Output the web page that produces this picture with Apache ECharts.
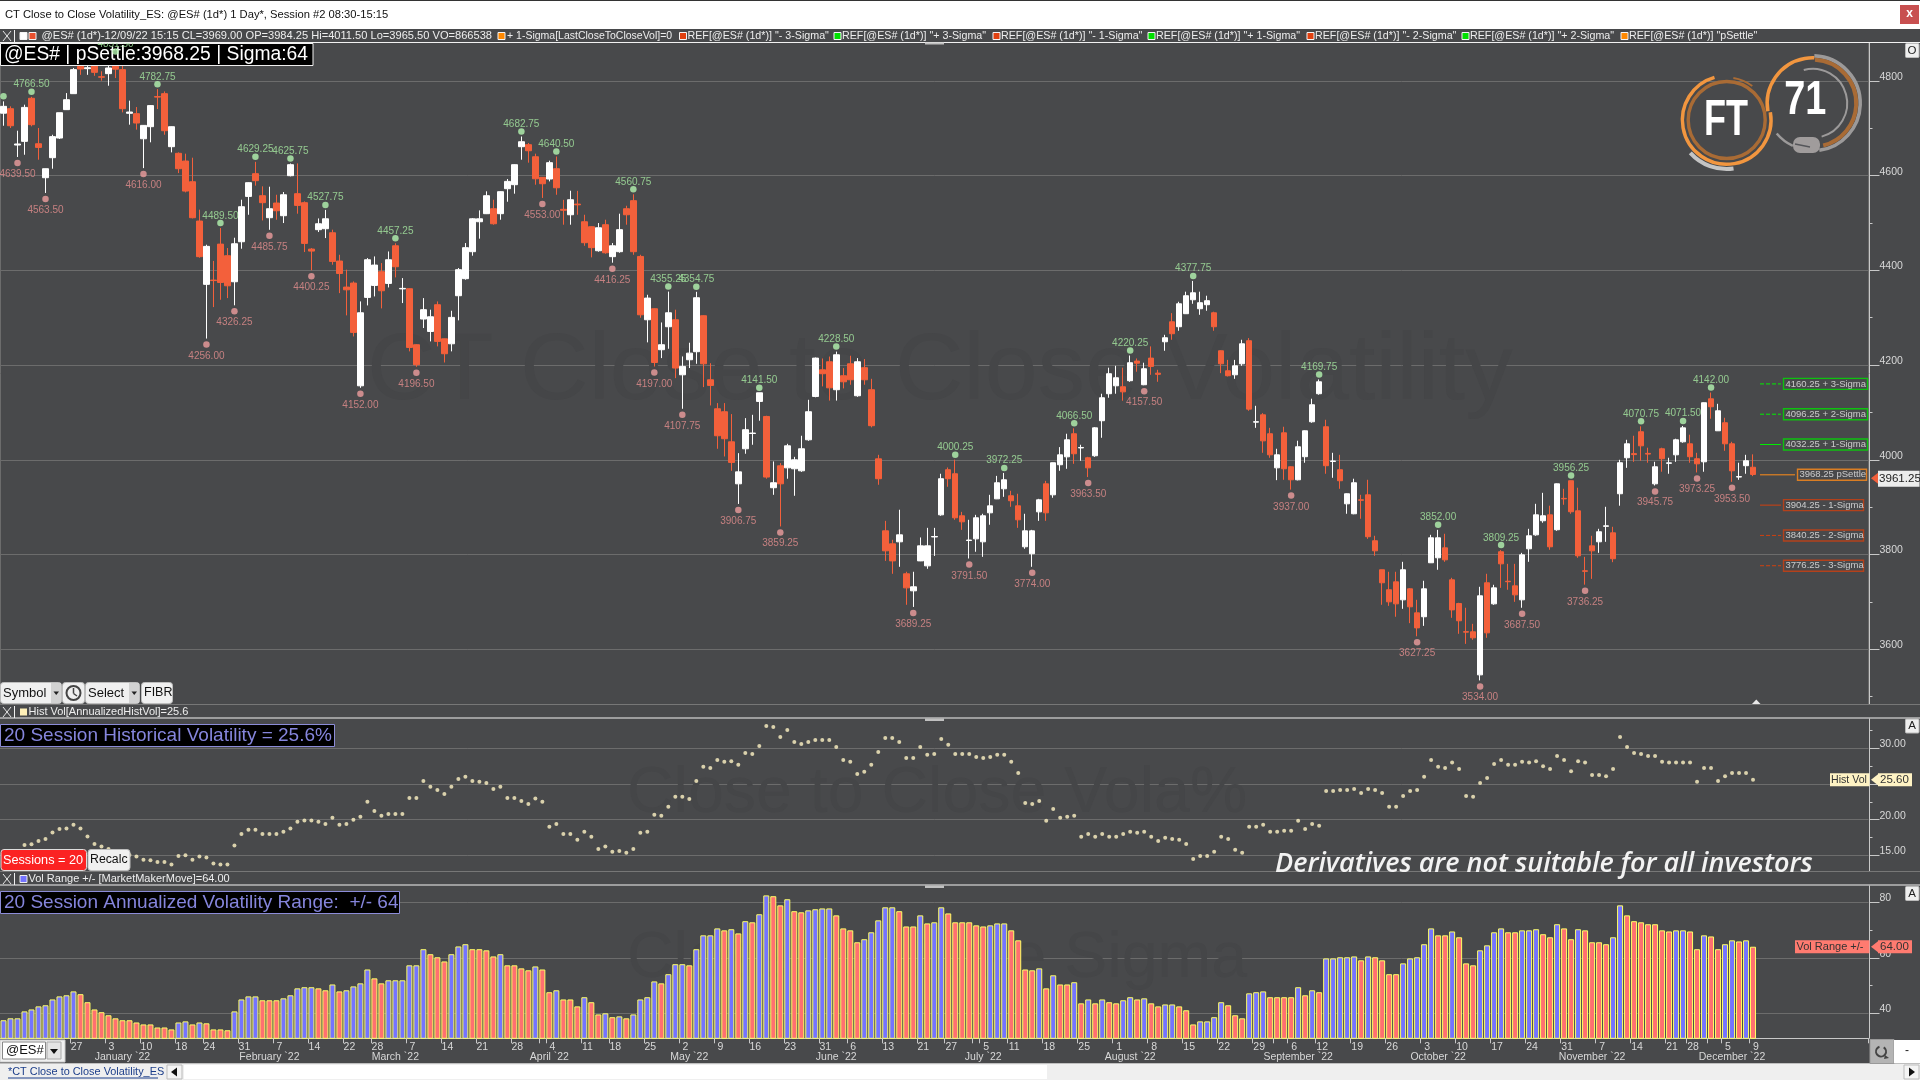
<!DOCTYPE html>
<html><head><meta charset="utf-8"><title>CT Close to Close Volatility</title>
<style>html,body{margin:0;padding:0;background:#48494b}#c{width:1920px;height:1080px}</style>
<script src="https://cdn.jsdelivr.net/npm/echarts@6/dist/echarts.min.js"></script></head>
<body><div id="c"></div>
<script>
const opens=[4732,4741.5,4664.75,4672.5,4763.5,4667.5,4595.75,4638,4679.5,4739.5,
4773.25,4831,4826,4838,4809,4815.5,4838,4824,4731.75,4731,
4678,4703.5,4767,4773.25,4661.25,4647.25,4631,4587.25,4504.25,4370.5,
4379.5,4455.5,4431,4376,4460.5,4556.25,4604.25,4557.75,4511.25,4542.25,
4515.5,4600,4562,4543,4445,4486,4488,4479.5,4419.75,4364.75,
4373.25,4156.25,4343,4368.25,4397.25,4372.5,4452,4361,4361.25,4243,
4297.25,4271,4327.5,4255.5,4245,4346.5,4382.5,4439.5,4502.75,4519.75,
4530.25,4519.75,4572.5,4581,4661.25,4665.5,4640,4596.5,4593,4614.75,
4529,4517.5,4540,4502.75,4492.25,4441.5,4496.5,4429,4439.5,4530.25,
4547.25,4429.5,4295.75,4319,4232.5,4281,4295.75,4179.5,4211.25,4228.25,
4304.25,4169,4107.75,4101.5,4038,3949.25,4023.25,4055.5,4123.25,4091.5,
3941,3987.25,3983,3981,3976.75,4042.25,4133.75,4190,4207,4148,
4177.5,4202.75,4135.25,4194.5,4148,4002,3850,3822.5,3826.75,3759.25,
3723.25,3786.5,3776,3837,3883.75,3979,3970.5,3881.75,3829.5,3833,
3826.75,3888,3917.5,3938.75,3924,3902.75,3816.25,3801.5,3890,3949.25,
3926,3989.5,4006.25,4055,4025,4004.25,4008.5,4082.5,4139.5,4156.25,
4154.25,4167,4208.5,4158.5,4214.75,4183,4249.25,4291.5,4281,4308.5,
4338,4319,4327.5,4310.5,4230.25,4188,4179.5,4202.75,4251.5,4079.5,
4095,4055,3983,4057,3985.25,3957.75,4006.5,4080.25,4139.5,4069.75,
3996.5,3979,3907,3886,3915.5,3926,3829,3767.75,3725.5,3742.25,
3704.25,3727.5,3676.75,3668.5,3782.5,3793,3814,3746.5,3696.5,3637,
3636.75,3545.75,3740.25,3695.75,3805.75,3743.5,3733.75,3704.25,3812,3841.5,
3871.25,3883.75,3852.25,3918.5,3955.75,3892.25,3765.5,3818.25,3826.75,3859.5,
3845.75,3928.25,4004.25,4013,4059.25,4013.5,3949.25,4023.25,3992.5,4010.5,
4038,4033.75,4002.25,3995.75,4128.75,4061.25,4078.25,4033.75,3963.5,3987.5,
3984.25];
const closes=[4746.5,4705.5,4667,4744.25,4707.75,4659.75,4614.75,4682.5,4733,4760.5,
4824,4825.25,4828,4818.25,4808,4827.5,4825,4741.5,4734.5,4711.25,
4706.25,4748,4766,4695,4703.5,4614.75,4567.5,4511.25,4429,4450.75,
4378.5,4374.5,4367.5,4456.25,4534.5,4585.25,4589.5,4543,4530.25,4526,
4559.75,4623.25,4537.25,4457,4440.75,4498.5,4509,4419,4393.5,4359,
4269,4310.5,4422.5,4411.25,4357,4422.5,4407.75,4362,4237.25,4200.75,
4317,4302,4250,4224,4300.75,4401.5,4448,4509,4509,4557.75,
4498.5,4566.25,4588,4623.25,4671.75,4652.75,4593.5,4583,4627.5,4574.5,
4527,4549.25,4538.5,4458.5,4448,4490,4437.25,4452,4486,4517.5,
4439.5,4306.25,4341.5,4205.5,4243,4310.5,4193.75,4197.25,4225.25,4342.25,
4202.75,4157,4050.75,4044.5,3994.5,3974.5,4063.5,4056.5,4141.5,3963.5,
3951.5,3949.25,4029.5,4000,4023.25,4101.5,4214.75,4181.75,4152,4221.75,
4164.75,4169,4207,4169,4072,3960,3807.75,3786.5,3841.5,3729.5,
3731.75,3818.25,3818.25,3838,3960,3960,3877.5,3869,3830.5,3877.5,
3881.75,3902.75,3951.5,3957.75,3913.5,3873.25,3850,3850,3915.5,3888,
3993.75,4010.5,4042.25,4012.75,4026,3983,4067.5,4131,4181.75,4173.25,
4143.5,4205,4204,4192.25,4197.25,4180.5,4257.75,4266.25,4329.5,4346.5,
4352.75,4331.75,4336,4281,4202.75,4177.5,4198.5,4245,4107,4080.5,
4040,4010.5,4010.5,3981,3957.75,4027.5,4061.25,4116.25,4164.75,3987.5,
3997.5,3955.75,3928.25,3951.5,3914.5,3837.5,3807.75,3740.25,3700,3695.75,
3767.75,3689.5,3645,3727.5,3835.25,3835.25,3788.75,3683,3660,3636,
3624,3712.75,3634.5,3729.5,3780.25,3742.5,3714.75,3799.25,3839.5,3883.75,
3881.75,3816.25,3949.25,3917.5,3890.25,3797.25,3764.5,3807.75,3848,3860.5,
3791,3993.75,4033.75,4011,4029.5,4012,3985.25,4002.25,3993.5,4042.25,
4067.5,4006.5,3991.5,4120.5,4112,4103.5,4033.75,3976.75,3964.5,3998,
3969];
const highs=[4757,4746.5,4695,4750,4766.5,4700.75,4615,4686.5,4733,4774.5,
4827.5,4835,4833,4845,4820.5,4834.5,4851.5,4834,4758.5,4745,
4707,4749.25,4782.75,4778,4704,4649.25,4646.5,4638,4528.25,4454.25,
4420,4489.5,4447.25,4469,4549.25,4586,4629.25,4577.5,4576.75,4559.75,
4565.5,4625.75,4626,4545.75,4447,4509.75,4527.75,4486,4433,4401.5,
4376.75,4334.5,4426,4429.5,4415.5,4440,4457.25,4383.75,4362,4244,
4341.5,4317,4334.5,4256,4314.75,4405,4457.75,4510.5,4526.75,4567,
4549.25,4567,4593,4624,4682.75,4669,4646.5,4597,4631.75,4640.5,
4549,4568.25,4568,4517.5,4493,4500,4507,4457.75,4519.75,4536.5,
4560.75,4433,4348.5,4320,4290,4355.25,4317,4218.25,4247.25,4354.75,
4305,4204,4119.75,4119.75,4096.5,4014,4088,4095,4141.5,4093,
3996.5,3993,4033.75,4006.25,4050.75,4126.75,4216,4214,4218,4228.5,
4193.75,4219.75,4214.75,4212.75,4171,4010.5,3871,3831,3894.5,3763.5,
3763.5,3836,3856.25,3856.25,3970.5,3983.75,4000.25,3890,3873.25,3883.75,
3886,3926,3966,3972.25,3934.5,3928.25,3886,3852,3917.5,3955.5,
3994,4026.75,4055,4066.5,4031.75,4006.25,4069,4139.5,4194.5,4198.5,
4194.5,4220.25,4214,4205,4239.5,4190,4264,4309.75,4333.75,4355,
4377.75,4355,4346.5,4312.75,4231,4211,4211,4253.5,4257,4114,
4098.5,4067.5,4023.25,4069.75,3986,4040.25,4062,4129,4169.75,4084.5,
4014.75,4010.5,3929,3960,3926,3957.75,3839.5,3768,3763.5,3763.5,
3784.5,3729,3704.25,3744.5,3841.5,3852,3843.75,3750.75,3698,3687.5,
3653.5,3731.75,3759.25,3736,3809.25,3780.25,3780.25,3803.5,3854.25,3907,
3930.25,3903,3950,3938.75,3956.25,3941,3795,3839.5,3854.25,3900.75,
3858.5,4000,4042.25,4050.75,4070.75,4025.5,3995.75,4025.5,4004.25,4044.5,
4071.5,4053,4014.75,4121,4142,4118.25,4088.75,4038,3993.75,4010.5,
4011.5];
const lows=[4705.5,4700.75,4639.5,4644.25,4704.25,4633.75,4563.5,4614.75,4677.5,4739,
4773,4813,4813,4811,4800.75,4790,4806.25,4733.75,4707.75,4697.25,
4616,4670.5,4740.75,4686.5,4649.25,4605.5,4564.75,4509.75,4426.75,4256,
4322.5,4338,4341.5,4326.25,4445.75,4517.5,4579,4505.5,4485.75,4507,
4500,4598.5,4519.75,4438.75,4400.25,4481,4468.25,4412,4352,4305,
4260.5,4152,4326,4345,4319.75,4364,4385.25,4331,4229,4196.5,
4278.25,4250,4239.5,4205.5,4229,4294.5,4380.25,4431,4467,4519,
4496.5,4507,4545,4562,4633.75,4627.5,4581,4553,4588,4559.75,
4496.5,4496.5,4517.5,4452,4427.5,4439.5,4435.25,4416.25,4437.25,4496.5,
4433,4300,4248,4197,4214.75,4234.5,4172.5,4107.75,4193.75,4202.75,
4153.5,4114.75,4023.25,4007,3976.75,3906.75,4012.75,4031.75,4082.5,3960,
3926,3859.25,3960,3924,3974.5,4040,4132,4155,4125,4125,
4150.75,4158.5,4133,4158.5,4068.5,3947.25,3786.5,3759.25,3774,3693.75,
3689.25,3786,3769.75,3797,3881.75,3943,3873.25,3852,3791.5,3805.75,
3795,3862.75,3917,3921.75,3900.75,3856.25,3812,3774,3871,3871,
3919.75,3976.75,3981,3991.5,3998,3963.5,4006.25,4046.5,4131,4139.5,
4124.75,4164.75,4186,4157.5,4179.5,4164.75,4230.25,4253.5,4272.5,4308,
4329.5,4306.25,4314.75,4272.5,4183,4176,4171,4198.5,4103.5,4067.5,
4014.75,4004.25,3957,3957.75,3937,3956.5,3993.75,4078.25,4137.5,3970.5,
3962,3938.75,3886,3885,3875.5,3833,3797.25,3693.75,3691.5,3668.5,
3685.25,3655,3627.25,3649.25,3782,3767.75,3784.5,3666.25,3632.5,3611.25,
3619.75,3534,3624,3693.75,3729.5,3725.5,3700,3687.5,3784.5,3839.5,
3867,3810,3850,3905,3886,3793,3736.25,3748.5,3803.5,3826.75,
3783.75,3903,3983,3995.75,3998,3993.75,3945.75,3974.75,3970.5,3995.75,
4036,3993.75,3973.25,3974.75,4086.75,4061,4019,3953.5,3957.75,3970.5,
3965.5];
const histVol=[15.2,15.45,15.45,16.46,16.56,17,17.3,18.2,18.7,18.75,
19.27,18.75,17.63,16.6,16.23,15.9,15.5,15.3,15.06,14.83,
14.37,14.3,14.08,14.08,13.7,14.9,15,14.37,14.83,14.7,
13.85,13.7,13.7,16.37,18,18.6,18.6,18,18,18,
18.3,18.75,19.7,19.87,19.87,19.7,19.4,20.25,19.27,19.4,
19.97,20.4,22.5,21.23,20.53,20.8,20.8,20.8,23.05,23.05,
25.43,24.6,24.17,23.6,24.6,25.7,26,25.43,25.3,25.15,
24.3,24.6,23.05,23.05,22.63,22.2,22.96,22.5,19,19.4,
18,18,17.17,18.3,17.6,15.9,16.23,15.5,15.6,15.35,
15.9,18.15,18.3,20.67,20.53,21.8,23.2,23.2,22.9,25.43,
27.4,27.25,28.37,28.1,28.2,27.7,29.35,29.2,30.34,33.14,
33,31.6,32.58,30.9,30.6,30.9,31.18,31.18,31.18,30.2,
28.37,28.1,26.4,26.7,27.7,29.5,31.46,31.46,30.9,28.65,
28.65,30.2,29.1,29.2,31.3,30.5,29.2,29.2,29.2,28.8,
28.65,28.8,29.1,29.1,28.1,26.55,22.35,22.2,22.63,19.83,
21.5,20.25,20.4,20.53,17.6,18,17.6,18,17.6,17.6,
18,18.3,18.15,18.3,17.6,17,17.45,17.3,17.17,16.6,
14.5,14.92,14.92,15.5,17.6,17.3,15.77,15.35,19,19,
19.27,18.3,18.3,18.43,18.43,19.83,18.7,19.4,19.13,24.03,
24.03,24.17,24.17,24.3,23.75,24.3,24.17,23.75,21.8,21.8,
23.33,24.03,24.17,26,28.37,27.4,27.25,28,27.1,23.33,
23.2,25.15,25.85,27.8,28.37,27.7,27.7,28.1,28,28.2,
27.5,27.1,28.93,28.37,26.8,28.2,28,26.27,26.27,26.1,
27.1,31.6,30.2,29.35,29.2,28.93,28.93,28.1,28,28,
28,28,25.3,27.25,27.25,25.43,26.1,26.55,26.55,26.55,
25.6];
const volRange=[37.5,38.2,38.2,40.7,41.4,42.5,42.9,45,46.1,46.5,
47.9,46.9,44,41.4,40.4,39.3,38.2,37.5,37.5,36.7,
36,36,34.9,34.9,34.2,36.7,37.1,36,36.7,36.4,
34.2,34.2,33.9,40.7,45,46.1,46.1,44.7,44.7,44.7,
45.4,46.5,49,49.4,49.4,49,48.3,50.4,47.9,48.3,
49.7,50.8,55.8,52.6,50.8,51.9,51.9,51.9,57.3,57.3,
63.1,61.3,60.2,58.7,61.3,64.1,64.9,63.1,63.1,62.7,
60.5,61.3,57.3,57.3,56.2,55.5,56.9,55.8,47.6,48.3,
45,45,42.5,45.8,44,39.6,40,38.6,38.9,38.2,
39.6,45,45.8,51.5,50.8,54.1,57.7,57.7,57.3,63.1,
68.1,68.1,70.6,69.9,70.3,68.8,73.2,72.8,75.7,82.5,
82.2,78.9,81.1,76.8,76.4,77.1,77.5,77.8,77.8,75.3,
70.6,69.9,65.6,66.7,69.2,73.5,78.2,78.2,76.8,71.3,
71.3,75.3,72.4,72.8,78.2,76,72.8,72.8,72.8,71.7,
71.3,71.7,72.4,72.4,69.9,66.3,55.8,55.5,56.2,49,
53.7,50.4,50.4,51.2,43.6,45,43.6,45,44,43.6,
44.7,45.8,45,45.4,43.6,42.5,43.2,43.2,42.5,41.1,
36,37.1,37.1,38.6,44,42.9,39.3,38.2,47.2,47.6,
47.9,45.8,45.8,45.8,45.8,49.4,46.5,48.3,47.6,59.8,
59.8,60.2,60.2,60.5,59.1,60.5,60.2,59.1,54.1,54.1,
58,59.8,60.2,64.9,70.6,68.1,68.1,69.5,67.4,58,
57.3,62.7,64.5,69.2,70.6,69.2,69.2,69.9,69.9,70.3,
68.5,67.4,72.1,70.6,66.7,70.3,69.9,65.6,65.6,64.9,
67.4,78.9,75.3,73.2,72.8,72.1,72.1,69.9,69.5,69.9,
69.9,69.5,63.1,68.1,67.7,63.1,64.9,66.3,65.9,66.3,
64];
const peakIdx=[0,4,16,22,31,36,41,46,56,74,79,90,95,99,108,119,136,143,153,161,170,188,205,214,224,234,240,244];
const troughIdx=[2,6,20,29,33,38,44,51,59,77,87,93,97,105,111,130,138,147,155,163,184,202,211,217,226,236,242,247];
const tickIdx=[10,15,20,25,29,34,39,44,49,53,58,63,68,73,78,83,87,92,97,102,107,112,117,121,126,131,135,140,144,149,154,159,164,169,174,179,184,188,193,198,203,208,213,218,223,228,233,238,241,246,250];
const tickText=['27','3','10','18','24','31','7','14','22','28','7','14','21','28','4','11','18','25','2','9','16','23','31','6','13','21','27','5','11','18','25','1','8','15','22','29','6','12','19','26','3','10','17','24','31','7','14','21','28','5','9'];
const monthTickIdx=[77,139,182,244];
const monthIdx=[17,38,56,78,98,119,140,161,185,205,227,247];
const monthText=['January `22','February `22','March `22','April `22','May `22','June `22','July `22','August `22','September `22','October `22','November `22','December `22'];
const sigmaLevels=[4160.25,4096.25,4032.25,3968.25,3904.25,3840.25,3776.25];
const sigmaNames=['+ 3-Sigma','+ 2-Sigma','+ 1-Sigma','pSettle','- 1-Sigma','- 2-Sigma','- 3-Sigma'];
const priceTicks=[3600,3800,4000,4200,4400,4600,4800];
const priceMinor=[3500,3700,3900,4100,4300,4500,4700];
const hvTicks=[15,20,25,30];
const hvMinor=[17.5,22.5,27.5,32.5];
const vrTicks=[40,60,80];
const vrMinor=[50,70];
const lastPrice=3961.25,lastHV=25.6,lastVR=64;

const SLOTS=267;
const FONT='"Liberation Sans",Arial,sans-serif';
const BG='#48494b',GRID='#6c6c6c',AXIS='#c8c8c8',TXT='#d8d8d8';
const UP='#ffffff',DOWN='#f3603b';
const cats=Array.from({length:SLOTS},(_,i)=>{const k=tickIdx.indexOf(i);return k>=0?tickText[k]:''+i;});
const monthCats=Array.from({length:SLOTS},(_,i)=>{const k=monthIdx.indexOf(i);return k>=0?monthText[k]:'';});
const candles=opens.map((o,i)=>[o,closes[i],lows[i],highs[i]]);
let prevCol='#7474ff';
const barData=volRange.map((v,i)=>{
  if(i>0&&v>volRange[i-1])prevCol='#7474ff';else if(i>0&&v<volRange[i-1])prevCol='#ff7070';
  return {value:v,itemStyle:{color:prevCol}};
});
const grids=[
 {left:-0.5,top:43,width:1869,height:661.3},
 {left:-0.5,top:719,width:1869,height:152.3},
 {left:-0.5,top:886,width:1869,height:152.3}
];
function hiddenX(g,extra){return Object.assign({type:'category',gridIndex:g,data:cats,boundaryGap:true,axisLine:{show:false},axisTick:{show:false},axisLabel:{show:false},splitLine:{show:false}},extra||{});}
function yMain(g,min,max,ticks,fmt){return {type:'value',gridIndex:g,position:'right',offset:1,min,max,scale:true,
  axisLine:{show:true,lineStyle:{color:AXIS,width:1}},
  axisTick:{show:true,length:10,customValues:ticks,lineStyle:{color:AXIS}},
  axisLabel:{show:true,customValues:ticks,margin:10,color:TXT,fontSize:10.5,fontFamily:FONT,align:'left',verticalAlign:'bottom',lineHeight:8,formatter:fmt},
  splitLine:{show:true,lineStyle:{color:GRID,width:1}}};}
function yMinor(g,min,max,ticks){return {type:'value',gridIndex:g,position:'right',offset:1,min,max,scale:true,
  axisLine:{show:false},axisTick:{show:true,length:3,customValues:ticks,lineStyle:{color:AXIS}},
  axisLabel:{show:false},splitLine:{show:false}};}
const PMIN=3483.6,PMAX=4880.25,HMIN=12.76,HMAX=34.11,VMIN=31,VMAX=85.88;
const levelColors=['#00f000','#00f000','#00f000','#ff8c1a','#d0400f','#d0400f','#d0400f'];
const levelDash=['dashed','dashed','solid','solid','solid','dashed','dashed'];
const levelEnd=[254,254,254,256,254,254,254];
const levelBox=[86,86,86,71,82,82,82];
const series=[
 {type:'candlestick',name:'@ES#',xAxisIndex:0,yAxisIndex:0,data:candles,barWidth:6,z:2,
  itemStyle:{color:UP,color0:DOWN,borderColor:UP,borderColor0:DOWN,borderWidth:1}},
 {type:'scatter',name:'Peaks',xAxisIndex:0,yAxisIndex:0,symbol:'circle',symbolSize:6.5,symbolOffset:[0,-5],z:5,
  itemStyle:{color:'#b4f5b0'},data:peakIdx.map(i=>[i,highs[i]]),
  label:{show:true,position:'top',distance:-1,color:'#a6e8a0',fontSize:10,fontFamily:FONT,
    formatter:p=>p.value[0]===0?'':p.value[1].toFixed(2)}},
 {type:'scatter',name:'Troughs',xAxisIndex:0,yAxisIndex:0,symbol:'circle',symbolSize:6.5,symbolOffset:[0,6],z:5,
  itemStyle:{color:'#ee9d9d'},data:troughIdx.map(i=>[i,lows[i]]),
  label:{show:true,position:'bottom',distance:3,color:'#e58f8f',fontSize:10,fontFamily:FONT,
    formatter:p=>p.value[1].toFixed(2)}},
 {type:'scatter',name:'Hist Vol',xAxisIndex:1,yAxisIndex:2,symbol:'circle',symbolSize:4,z:3,
  itemStyle:{color:'#fff4c4'},data:histVol.map((v,i)=>[i,v])},
 {type:'bar',name:'Vol Range',xAxisIndex:2,yAxisIndex:4,barWidth:6,z:3,data:barData,
  itemStyle:{borderColor:'#ffff66',borderWidth:1}}
];
sigmaLevels.forEach((v,k)=>{
  series.push({type:'line',name:sigmaNames[k],xAxisIndex:0,yAxisIndex:0,z:4,showSymbol:false,symbol:'none',
    lineStyle:{color:levelColors[k],width:1,type:levelDash[k]},data:[[251,v],[levelEnd[k],v]]});
  series.push({type:'scatter',name:sigmaNames[k]+' tag',xAxisIndex:0,yAxisIndex:0,z:6,symbolSize:1,
    itemStyle:{color:'rgba(0,0,0,0)'},data:[[levelEnd[k],v]],
    label:{show:true,position:'right',distance:2,width:levelBox[k]-6,height:11,lineHeight:11,padding:[0,2,0,2],
      borderColor:levelColors[k]==='#00f000'?'#00e000':levelColors[k],borderWidth:1.4,
      color:'#e8e8e8',fontSize:9.5,fontFamily:FONT,align:'left',
      formatter:()=>v.toFixed(2)+' '+sigmaNames[k]}});
});
const option={
 animation:false,backgroundColor:BG,grid:grids,
 xAxis:[
  hiddenX(0,{splitLine:{show:true,interval:i=>i===251,lineStyle:{color:'#6c6c6c'}}}),
  hiddenX(1),
  {type:'category',gridIndex:2,data:cats,boundaryGap:true,
   axisLine:{show:true,lineStyle:{color:AXIS}},
   axisTick:{show:true,length:5,interval:i=>tickIdx.includes(i)||monthTickIdx.includes(i),lineStyle:{color:AXIS}},
   axisLabel:{show:true,margin:3,color:TXT,fontSize:10.5,fontFamily:FONT,padding:[0,0,0,6],interval:i=>tickIdx.includes(i)},
   splitLine:{show:false}},
  {type:'category',gridIndex:2,data:monthCats,boundaryGap:true,position:'bottom',offset:10,
   axisLine:{show:false},axisTick:{show:false},
   axisLabel:{show:true,margin:3,color:TXT,fontSize:10.5,fontFamily:FONT,interval:i=>monthIdx.includes(i)},
   splitLine:{show:false}}
 ],
 yAxis:[
  yMain(0,PMIN,PMAX,priceTicks,v=>''+v),yMinor(0,PMIN,PMAX,priceMinor),
  yMain(1,HMIN,HMAX,hvTicks,v=>v.toFixed(2)),yMinor(1,HMIN,HMAX,hvMinor),
  yMain(2,VMIN,VMAX,vrTicks,v=>''+v),yMinor(2,VMIN,VMAX,vrMinor)
 ],
 series
};
const chart=echarts.init(document.getElementById('c'),null,{renderer:'canvas',width:1920,height:1080});
chart.setOption(option);

/* interface furniture */
const Z=40,els=[];
function rect(x,y,w,h,fill,stroke,r,z,lw){els.push({type:'rect',z:z||Z,shape:{x,y,width:w,height:h,r:r||0},style:{fill:fill||'none',stroke:stroke||null,lineWidth:lw||1},silent:true});}
function text(x,y,s,color,size,opt){opt=opt||{};els.push({type:'text',z:opt.z||Z+1,x:opt.tx||0,y:opt.ty||0,scaleX:opt.sx||1,style:{text:s,x:opt.tx?0:x,y:opt.ty?0:y,fill:color,font:(opt.w||'normal')+' '+size+'px '+(opt.f||FONT),textAlign:opt.a||'left',textVerticalAlign:'middle',align:opt.a||'left',verticalAlign:'middle'},silent:true});}
function tri(pts,fill,z){els.push({type:'polygon',z:z||Z+1,shape:{points:pts},style:{fill},silent:true});}
function line(x1,y1,x2,y2,c,lw,z){els.push({type:'line',z:z||Z,shape:{x1,y1,x2,y2},style:{stroke:c,lineWidth:lw||1},silent:true});}
function arc(cx,cy,r,a0,a1,c,lw){els.push({type:'arc',z:Z,shape:{cx,cy,r,startAngle:a0*Math.PI/180,endAngle:a1*Math.PI/180,clockwise:true},style:{stroke:c,fill:'none',lineWidth:lw},silent:true});}
const pxY=(ax,v)=>chart.convertToPixel({yAxisIndex:ax},v);

/* watermarks */
const WM='#454648';
text(367,373,'CT Close to Close Volatility',WM,95,{z:1});
text(627,794,'Close to Close Vola%',WM,64.5,{z:1});
text(627,959,'Close to Close Sigma',WM,64.5,{z:1});

/* title bar */
rect(0,0,1920,1,'#333');rect(0,1,1920,28,'#fff');
text(5,14.5,'CT Close to Close Volatility_ES: @ES# (1d*) 1 Day*, Session #2 08:30-15:15','#111',11.2);
rect(1900,5,19,19,'#c85050');text(1909.5,14,'x','#fff',12,{a:'center',w:'bold'});

/* legend strips */
function strip(y0,h,lineY){rect(0,y0,1920,h,BG);line(0,lineY,1920,lineY,'#f2f2f2',1);}
function xbox(y){line(14.5,y-6,14.5,y+6,'#f0f0f0',1);line(3,y-5,11,y+5,'#e8e8e8',1);line(11,y-5,3,y+5,'#e8e8e8',1);}
function sq(x,y,c){rect(x,y-3.5,7,7,c,'#f4f4f4');}
strip(29,13.5,42.5);xbox(36);
sq(20,36,'#ffffff');sq(29,36,'#e8502e');
const LF=10.7;
text(41.5,36,'@ES# (1d*)-12/09/22 15:15 CL=3969.00 OP=3984.25 Hi=4011.50 Lo=3965.50 VO=866538','#eee',11.1);
sq(498,36,'#ff8800');text(507,36,'+ 1-Sigma[LastCloseToCloseVol]=0','#eee',10.5);
[[679.5,'#e04010','"- 3-Sigma"'],[834,'#00e000','"+ 3-Sigma"'],[993,'#e04010','"- 1-Sigma"'],[1148,'#00e000','"+ 1-Sigma"'],[1307,'#e04010','"- 2-Sigma"'],[1462,'#00e000','"+ 2-Sigma"'],[1621,'#ff8800','"pSettle"']].forEach(a=>{
  sq(a[0],36,a[1]);text(a[0]+8,36,'REF[@ES# (1d*)] '+a[2],'#eee',LF);
});
rect(925,42.5,19,2,'#c0c0c0');
strip(704.5,13.5,718);line(0,704.5,1920,704.5,'#777',1);xbox(712);
rect(20,708.5,7,7,'#fff0b8');text(28.5,712,'Hist Vol[AnnualizedHistVol]=25.6','#eee',11);
rect(925,718.5,19,2.5,'#c0c0c0');
strip(871.5,13.5,885);line(0,871.5,1920,871.5,'#777',1);xbox(879);
rect(20,875.5,7,7,'#7474ff','#eee');text(28.5,879,'Vol Range +/- [MarketMakerMove]=64.00','#eee',11);
rect(925,885.5,19,2.5,'#c0c0c0');

/* info boxes */
rect(0.5,43.5,312.5,22,'#000','#f0f0f0',0,3);
text(4,55,'@ES# | pSettle:3968.25 | Sigma:64','#fff',19.3,{z:4});
rect(0.5,724.5,334,22,'#000','#8c8cd8',0,3);
text(4,736,'20 Session Historical Volatility = 25.6%','#8585dc',19,{z:4});
rect(0.5,891.5,399,22,'#000','#8c8cd8',0,3);
text(4,903,'20 Session Annualized Volatility Range:  +/- 64','#8585dc',19,{z:4});

/* buttons */
function btn(x,y,w,h,fill){rect(x,y,w,h,fill||'#f0f0f0','#bdbdbd',3);}
btn(0.5,682.5,61,21);rect(51,683,10,20,'#d2d2d2');text(3,693,'Symbol','#111',13);tri([[53.5,691.5],[59,691.5],[56.25,695]],'#222');
btn(62.5,682.5,22,21);els.push({type:'circle',z:Z+1,shape:{cx:73.5,cy:693,r:7},style:{fill:'none',stroke:'#444',lineWidth:2},silent:true});line(73.5,688,73.5,693.5,'#444',1.5,Z+1);line(73.5,693.5,77,696,'#444',1.5,Z+1);
btn(85.5,682.5,54,21);rect(129,683,10,20,'#d2d2d2');text(88,693,'Select','#111',13);tri([[131.5,691.5],[137,691.5],[134.25,695]],'#222');
btn(141.5,682.5,31,21);text(144,693,'FIBR','#111',12.5);
rect(1,849.5,85.5,21,'#fb2222','#ddd',3);text(3,860,'Sessions = 20','#fff',12.7);
btn(88,849.5,42,21);text(90,860,'Recalc','#111',12.3);
function cornerBtn(y,s){rect(1905.5,y,13.5,14,'#efefef','#bbb',1);text(1912,y+7,s,'#222',11.5,{a:'center'});}
cornerBtn(43.5,'O');cornerBtn(719,'A');cornerBtn(886.5,'A');

/* last-bar marker */
tri([[1752,704],[1756.3,699.5],[1760.5,704]],'#e8e8e8');

/* value badges */
function arrowTip(x,y,c){tri([[x,y],[x+7,y-5.5],[x+7,y+5.5]],c);}
let y=pxY(0,lastPrice);
arrowTip(1871,y,'#f3603b');rect(1878,y-7.5,41.5,16,'#ececec');text(1879,y+0.5,lastPrice.toFixed(2),'#222',11.6);
y=pxY(2,lastHV);
rect(1830,y-6.5,39.5,13,'#fff3c4');text(1831,y,'Hist Vol','#333',10.6);
arrowTip(1871,y,'#fff3c4');rect(1878,y-6.5,34,13,'#fff3c4');text(1880,y,lastHV.toFixed(2),'#333',11.5);
y=pxY(4,lastVR);
rect(1795,y-6.5,74.5,13,'#ff7b70');text(1796.5,y,'Vol Range +/-','#333',11);
arrowTip(1871,y,'#ff7b70');rect(1878,y-6.5,34,13,'#ff7b70');text(1880,y,lastVR.toFixed(2),'#333',11.5);

/* disclaimer */
text(1275,864.5,'Derivatives are not suitable for all investors','#f2f2f2',27,{w:'italic 600',f:'"Open Sans",sans-serif'});

/* logo */
const OR='#f2963f',BR='#a96b35',GY='#9c9a9a',LG='#c4c4c4';
arc(1726.7,120,38.5,0,359.9,BR,3.4);
arc(1726.7,120,49,82,138,LG,4);
arc(1726.7,120,44.3,-10,254,OR,3.5);
arc(1726.7,120,42.5,-81,-53,BR,2);
arc(1812.7,103.3,47.5,-88,82,GY,3.6);
arc(1812.7,103.3,43.5,-87,76,BR,4);
arc(1812.7,103.3,45.5,170,272,OR,3.5);
arc(1812.7,103.3,34.5,-105,75,GY,2);
arc(1812.7,103.3,47,115,140,GY,2.5);
rect(1793,137,27,16,'#a09c9c',null,7);
line(1795,144,1810,147,'#55565a',1.5,Z+1);
text(1726,121.5,'FT','#fff',50,{tx:1726,ty:121.5,a:'center',w:'bold',sx:0.72});
text(1805.3,100.7,'71','#fff',48.5,{tx:1805.3,ty:100.7,a:'center',w:'bold',sx:0.78});

/* bottom chrome */
line(0,1063.5,1920,1063.5,'#bfbfbf',1);
rect(0,1040,65,22,'#f0f0f0','#ccc');rect(2.5,1042,43,17,'#fff','#888');text(6,1050.5,'@ES#','#111',13);
rect(47,1042,14,17,'#e4e4e4','#aaa');tri([[50,1049],[58,1049],[54,1054]],'#111');
rect(1870,1039.5,24,24,'#b4b4b4','#999');
els.push({type:'arc',z:Z+1,shape:{cx:1881,cy:1051.5,r:5,startAngle:-1,endAngle:4.4,clockwise:true},style:{stroke:'#444',fill:'none',lineWidth:2},silent:true});
tri([[1885,1055],[1889,1058],[1884,1059]],'#444');
rect(1894,1040,26,23,'#fff');text(1907,1051,'-','#222',12,{a:'center'});
rect(0,1064,1920,16,'#efefef');
rect(184,1065,863,14,'#fff');
text(8,1072,'*CT Close to Close Volatility_ES','#1c3e8a',10.9);line(8,1078,158,1078,'#1c3e8a',1);
rect(167,1065,15,14,'#f4f4f4','#bbb');tri([[171,1072],[177,1067.5],[177,1076.5]],'#111');
rect(1904,1065,15,14,'#f4f4f4','#bbb');tri([[1915,1072],[1909,1067.5],[1909,1076.5]],'#111');

chart.setOption({graphic:{elements:els}});
</script></body></html>
